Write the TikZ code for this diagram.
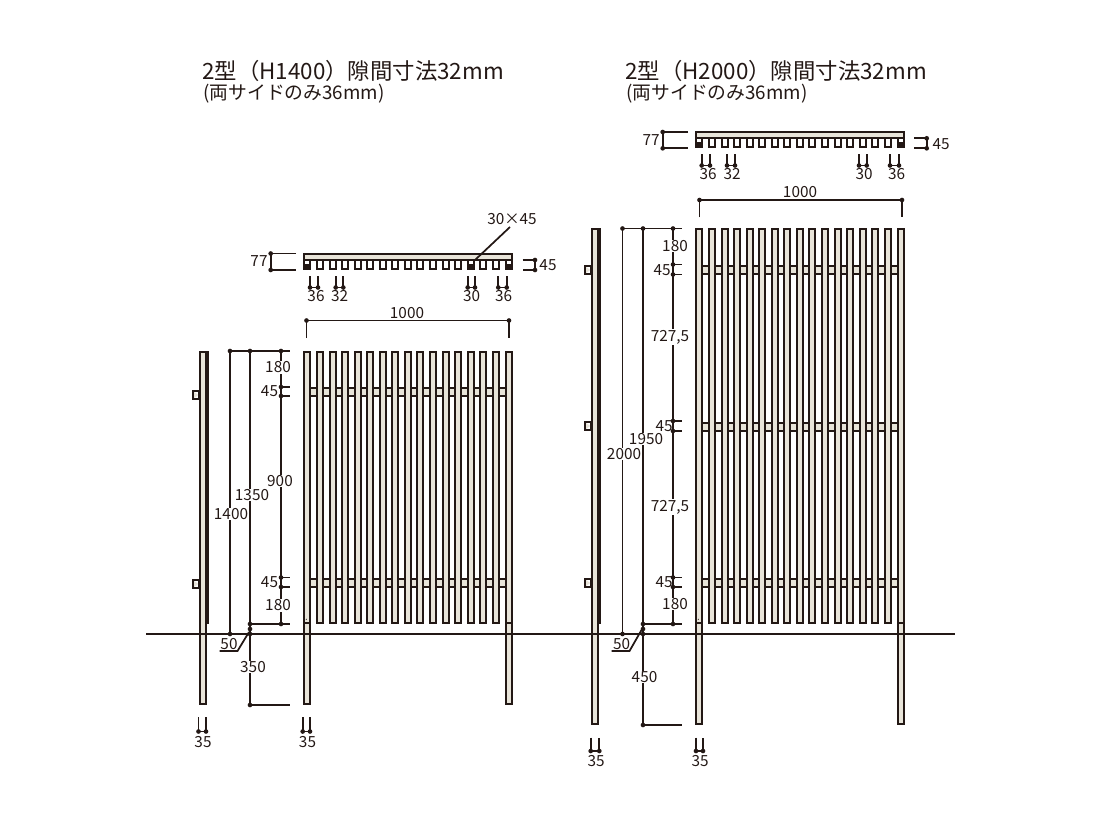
\documentclass[tikz,border=0pt]{standalone}
\usepackage{fontspec}
\setmainfont{Noto Sans CJK JP}
\definecolor{ink}{HTML}{231815}
\definecolor{woodfill}{HTML}{E8E4D9}
\tikzset{
  dimline/.style={draw=ink, line width=1.3pt},
  dimdot/.style={fill=ink, circle, inner sep=0pt, minimum size=3.5pt},
  dimtext/.style={text=ink, inner sep=0.5pt, font=\fontsize{11.5}{13}\selectfont},
  gaptext/.style={dimtext, fill=white},
  titletext/.style={text=ink, anchor=west, inner sep=0pt, font=\fontsize{16.8}{19}\selectfont},
  subtext/.style={text=ink, anchor=west, inner sep=0pt, font=\fontsize{14.1}{16}\selectfont}
}
% box with an even outline on whole pixels: colour, left, top, right, bottom
\newcommand{\outlinebox}[5]{
  \fill[ink] ({round(#2)+0.2},{round(#3)+0.2}) rectangle ({round(#4)+0.2},{round(#5)+0.2});
  \fill[#1] ({round(#2)+2.2},{round(#3)+2.2}) rectangle ({round(#4)-1.8},{round(#5)-1.8});
}
\begin{document}
\begin{tikzpicture}[x=0.75pt,y=-0.75pt]
  \useasboundingbox (0,0) rectangle (1112,834);

  % titles
  \node[titletext] (titleA) at (202,71) {2型（H1400）隙間寸法32mm};
  \node[subtext] (subA) at (203,94) {(両サイドのみ36mm)};
  \node[titletext] (titleB) at (625,71) {2型（H2000）隙間寸法32mm};
  \node[subtext] (subB) at (626,94) {(両サイドのみ36mm)};

  % rails behind the slats
  \foreach \dx/\railtop in {0/387, 0/578, 392/265, 392/422, 392/578} {
    \outlinebox{woodfill}{\dx+306}{\railtop}{\dx+508}{\railtop+10}
  }

  % front views and top views
  \foreach \dx/\topy/\posty/\plany in {0/351/705/253, 392/228/725/131} {
    \foreach \i in {0,...,14} {
      \outlinebox{woodfill}{\dx+316+12.55*\i}{\topy}{\dx+316+12.55*\i+8}{624}
    }
    \outlinebox{woodfill}{\dx+303}{\topy}{\dx+311}{\posty}
    \outlinebox{woodfill}{\dx+505}{\topy}{\dx+513}{\posty}
    \fill[ink] ({\dx+303.2},622.2) rectangle ({\dx+311.2},624.2);
    \fill[ink] ({\dx+505.2},622.2) rectangle ({\dx+513.2},624.2);
    \fill[ink] ({\dx+306.3},619.3) circle (0.6);
    % top view
    \foreach \i in {0,...,14} {
      \outlinebox{white}{\dx+316+12.55*\i}{\plany+6}{\dx+316+12.55*\i+8}{\plany+17}
    }
    \outlinebox{white}{\dx+303}{\plany+6}{\dx+311}{\plany+17}
    \outlinebox{white}{\dx+505}{\plany+6}{\dx+513}{\plany+17}
    \fill[ink] ({\dx+303.2},{\plany+11.2}) rectangle ({\dx+311.2},{\plany+17.2});
    \fill[ink] ({\dx+505.2},{\plany+11.2}) rectangle ({\dx+513.2},{\plany+17.2});
    \outlinebox{woodfill}{\dx+303}{\plany}{\dx+513}{\plany+8}
  }
  \fill[ink] (467.2,264.2) rectangle (474.2,270.2);

  % side views
  \foreach \sx/\topy/\posty in {199/351/705, 591/228/725} {
    \fill[ink] ({\sx+7.2},\topy) rectangle ({\sx+10.2},624.2);
    \outlinebox{woodfill}{\sx}{\topy}{\sx+8}{\posty}
  }
  \foreach \sx/\keyy in {199/395, 199/584, 591/270, 591/426, 591/583} {
    \outlinebox{white}{\sx-7}{\keyy-5}{\sx+1}{\keyy+5}
    \fill[woodfill] ({\sx-4.8},{\keyy-3}) -- ({\sx-0.8},\keyy) -- ({\sx-4.8},{\keyy+3}) -- cycle;
  }

  % ground line
  \draw[ink, line width=1.15pt] (146,634) -- (955,634);

  % long vertical dimensions
  \foreach \ax/\bx/\cx/\topy/\posty in {230/250/281/351/705, 622.5/643/673/228.5/725} {
    \draw[dimline] (\ax,\topy) -- ({\cx+9},\topy);
    \draw[dimline] (\ax,\topy) -- (\ax,634);
    \draw[dimline] (\bx,\topy) -- (\bx,\posty);
    \draw[dimline] (\cx,\topy) -- (\cx,624);
    \draw[dimline] (\bx,624) -- ({\cx+9},624);
    \draw[dimline] (\bx,\posty) -- ({\cx+9},\posty);
    \foreach \px/\py in {\ax/\topy, \bx/\topy, \cx/\topy, \ax/634, \bx/624, \cx/624, \bx/629, \bx/634, \bx/\posty}
      \node[dimdot] at (\px,\py) {};
  }
  \foreach \cx/\ty in {281/387, 281/396, 281/577.5, 281/587, 673/264.5, 673/274.5, 673/421, 673/431, 673/577.5, 673/587} {
    \draw[dimline] (\cx,\ty) -- ({\cx+9},\ty);
    \node[dimdot] at (\cx,\ty) {};
  }
  % leaders
  \draw[dimline] (219.5,651) -- (237.5,651) -- (249,632);
  \draw[dimline] (611.5,651) -- (629.5,651) -- (641.5,630);
  \draw[dimline] (510,227) -- (475,260);

  % width dimension
  \foreach \lx/\rx/\wy in {306.5/509/320.5, 699.5/902/200} {
    \draw[dimline] (\lx,{\wy+17.5}) -- (\lx,\wy) -- (\rx,\wy) -- (\rx,{\wy+17.5});
    \node[dimdot] at (\lx,\wy) {};
    \node[dimdot] at (\rx,\wy) {};
  }

  % depth of the top views
  \foreach \lx/\ex/\ay/\by in {270.7/296/253.5/270, 662.7/688/132/148.3} {
    \draw[dimline] (\ex,\ay) -- (\lx,\ay) -- (\lx,\by) -- (\ex,\by);
    \node[dimdot] at (\lx,\ay) {};
    \node[dimdot] at (\lx,\by) {};
  }
  \foreach \lx/\ex/\ay/\by in {522.5/535/260/270, 914/926.7/138.3/148.3} {
    \draw[dimline] (\lx,\ay) -- (\ex,\ay) -- (\ex,\by) -- (\lx,\by);
    \node[dimdot] at (\ex,\ay) {};
    \node[dimdot] at (\ex,\by) {};
  }

  % narrow widths under the views
  \foreach \ax/\bx/\ay/\by in {310/318/276/287.5, 335.7/343.3/276/287.5, 467.7/475/276/287.5, 498.3/506.7/276/287.5,
      701.7/710/154.5/165.5, 727/735/154.5/165.5, 859/866.7/154.5/165.5, 890/899/154.5/165.5,
      198.5/206/717/731.5, 302.7/310/717/731.5, 590.7/599.3/737.5/751, 696/703/737.5/751} {
    \draw[dimline] (\ax,\ay) -- (\ax,\by) -- (\bx,\by) -- (\bx,\ay);
    \node[dimdot] at (\ax,\by) {};
    \node[dimdot] at (\bx,\by) {};
  }

  % labels, left drawing
  \node[dimtext] (d77a) at (259,261) {77};
  \node[dimtext] (d45a) at (548,265.5) {45};
  \node[dimtext] (d36a) at (316,296) {36};
  \node[dimtext] (d32a) at (339.7,296) {32};
  \node[dimtext] (d30a) at (471.7,296) {30};
  \node[dimtext] (d36b) at (503.7,296) {36};
  \node[dimtext] (d3045) at (512,219) {30×45};
  \node[dimtext] (d1000a) at (407,313) {1000};
  \node[gaptext] (d180a) at (278,367.5) {180};
  \node[dimtext] (d45b) at (269.5,391) {45};
  \node[gaptext] (d900) at (280,481) {900};
  \node[dimtext] (d45c) at (269.5,582) {45};
  \node[gaptext] (d180b) at (278,605.5) {180};
  \node[gaptext] (d1350) at (252,495) {1350};
  \node[gaptext] (d1400) at (231,514) {1400};
  \node[dimtext] (d50a) at (229,644) {50};
  \node[gaptext] (d350) at (253,667) {350};
  \node[dimtext] (d35a) at (203,742) {35};
  \node[dimtext] (d35b) at (307.5,742) {35};

  % labels, right drawing
  \node[dimtext] (d77b) at (651,140) {77};
  \node[dimtext] (d45d) at (941,144) {45};
  \node[dimtext] (d36c) at (708,174) {36};
  \node[dimtext] (d32b) at (732,174) {32};
  \node[dimtext] (d30b) at (864,174) {30};
  \node[dimtext] (d36d) at (896.7,174) {36};
  \node[dimtext] (d1000b) at (800,192) {1000};
  \node[gaptext] (d180c) at (675,246) {180};
  \node[dimtext] (d45e) at (662,270) {45};
  \node[gaptext] (d727a) at (670,337) {727,5};
  \node[dimtext] (d45f) at (664,426) {45};
  \node[gaptext] (d727b) at (670,507) {727,5};
  \node[dimtext] (d45g) at (664,582) {45};
  \node[gaptext] (d180d) at (675,604) {180};
  \node[gaptext] (d1950) at (646,439) {1950};
  \node[gaptext] (d2000) at (624,454) {2000};
  \node[dimtext] (d50b) at (621.7,644) {50};
  \node[gaptext] (d450) at (644.5,677) {450};
  \node[dimtext] (d35c) at (596,761) {35};
  \node[dimtext] (d35d) at (700,761) {35};
\end{tikzpicture}
\end{document}
